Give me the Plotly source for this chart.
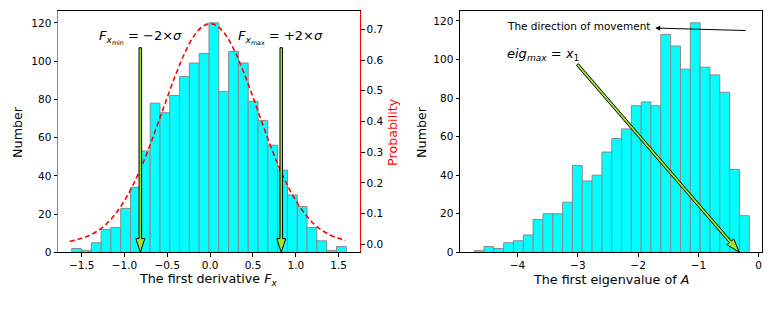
import math
import numpy as np
import plotly.graph_objects as go

# ---------------- data ----------------
fx_counts = [2, 1, 5, 12, 13, 23, 34, 53, 78, 73, 82, 92, 99, 104,
             120, 84, 105, 99, 79, 69, 56, 43, 30, 24, 13, 6, 1, 3]
fx_bin_start = -1.616
fx_bin_end = 1.589

eig_counts = [1, 3, 2, 5, 6, 9, 17, 20, 20, 26, 45, 37, 40, 52,
              59, 64, 76, 78, 76, 113, 107, 95, 119, 96, 92, 83, 43, 19]
eig_bin_start = -4.72
eig_bin_end = -0.155

pdf_x = [-1.64, -1.5, -1.4, -1.3, -1.2, -1.1, -1.0, -0.9, -0.8, -0.7, -0.6,
         -0.5, -0.4, -0.3, -0.2, -0.1, 0.0, 0.1, 0.2, 0.3, 0.4, 0.5, 0.6,
         0.7, 0.8, 0.9, 1.0, 1.1, 1.2, 1.3, 1.4, 1.5, 1.58]
pdf_y = [0.009, 0.019, 0.030, 0.046, 0.069, 0.101, 0.142, 0.193, 0.254,
         0.324, 0.401, 0.479, 0.554, 0.621, 0.674, 0.707, 0.719, 0.707,
         0.674, 0.621, 0.554, 0.479, 0.401, 0.324, 0.254, 0.193, 0.142,
         0.101, 0.069, 0.046, 0.030, 0.019, 0.012]

fx_ticks = [-1.5, -1.0, -0.5, 0.0, 0.5, 1.0, 1.5]
fx_ticktext = ["−1.5", "−1.0", "−0.5", "0.0", "0.5", "1.0", "1.5"]
eig_ticks = [-4, -3, -2, -1, 0]
eig_ticktext = ["−4", "−3", "−2", "−1", "0"]
count_ticks = [0, 20, 40, 60, 80, 100, 120]
prob_ticks = [0.0, 0.1, 0.2, 0.3, 0.4, 0.5, 0.6, 0.7]
prob_ticktext = ["0.0", "0.1", "0.2", "0.3", "0.4", "0.5", "0.6", "0.7"]

# annotation anchor points (data coordinates)
fx_arrow_x = [-0.815, 0.83]
fx_arrow_top = 107.0
eig_arrow_tail = (-3.007, 97.4)
eig_arrow_tip = (-0.32, 0.0)
move_arrow_tail = (-0.19, 115.0)
move_arrow_tip = (-1.716, 116.3)

# ---------------- geometry ----------------
W, H = 775, 310
L1 = (58, 360)
L2 = (460, 762)
YPX = (11.6, 257.3)
x1_range = [-1.776, 1.749]
y1_range = [0, 126]
y2_range = [-0.0265, 0.7587]
x2_range = [-4.955, 0.056]
y3_range = [0, 124.95]

def px(x):
    return x / W

def py(y):
    return 1 - y / H

FONT = "DejaVu Sans"
TICKFONT = dict(family=FONT, size=10.5, color="black")
LABFONT = 12.7

fx_edges = np.linspace(fx_bin_start, fx_bin_end, len(fx_counts) + 1)
fx_centers = (fx_edges[:-1] + fx_edges[1:]) / 2
fx_w = fx_edges[1] - fx_edges[0]
eig_edges = np.linspace(eig_bin_start, eig_bin_end, len(eig_counts) + 1)
eig_centers = (eig_edges[:-1] + eig_edges[1:]) / 2
eig_w = eig_edges[1] - eig_edges[0]

fig = go.Figure()
fig.add_trace(go.Bar(x=fx_centers, y=fx_counts, width=fx_w,
                     marker=dict(color="#00ffff", line=dict(color="#8a8a8a", width=1)),
                     xaxis="x", yaxis="y", showlegend=False, hoverinfo="skip"))
fig.add_trace(go.Scatter(x=pdf_x, y=pdf_y, mode="lines", line_shape="spline",
                         line=dict(color="red", width=1.6, dash="5px,3px"),
                         xaxis="x", yaxis="y2", showlegend=False, hoverinfo="skip"))
fig.add_trace(go.Bar(x=eig_centers, y=eig_counts, width=eig_w,
                     marker=dict(color="#00ffff", line=dict(color="#8a8a8a", width=1)),
                     xaxis="x2", yaxis="y3", showlegend=False, hoverinfo="skip"))


def arrow_path(tail, tip, xr, yr, wpx, hpx, shaft_w=2.6, head_w=9.0, head_l=14.0):
    sx = wpx / (xr[1] - xr[0])
    sy = hpx / (yr[1] - yr[0])
    X0, Y0 = tail[0] * sx, tail[1] * sy
    X1, Y1 = tip[0] * sx, tip[1] * sy
    dx, dy = X1 - X0, Y1 - Y0
    L = math.hypot(dx, dy)
    ux, uy = dx / L, dy / L
    nx, ny = -uy, ux
    bx, by = X1 - ux * head_l, Y1 - uy * head_l
    pts = [(X0 + nx * shaft_w / 2, Y0 + ny * shaft_w / 2),
           (bx + nx * shaft_w / 2, by + ny * shaft_w / 2),
           (bx + nx * head_w / 2, by + ny * head_w / 2),
           (X1, Y1),
           (bx - nx * head_w / 2, by - ny * head_w / 2),
           (bx - nx * shaft_w / 2, by - ny * shaft_w / 2),
           (X0 - nx * shaft_w / 2, Y0 - ny * shaft_w / 2)]
    s = "M " + " L ".join(f"{p[0] / sx:.5f},{p[1] / sy:.5f}" for p in pts) + " Z"
    return s

shapes = []
wpx1 = L1[1] - L1[0]
wpx2 = L2[1] - L2[0]
hpx = YPX[1] - YPX[0]
for ax_ in fx_arrow_x:
    shapes.append(dict(type="path", xref="x", yref="y",
                       path=arrow_path((ax_, fx_arrow_top), (ax_, 0.0), x1_range, y1_range, wpx1, hpx),
                       fillcolor="#9be62a", line=dict(color="black", width=1), layer="above"))
shapes.append(dict(type="path", xref="x2", yref="y3",
                   path=arrow_path(eig_arrow_tail, eig_arrow_tip, x2_range, y3_range, wpx2, hpx),
                   fillcolor="#9be62a", line=dict(color="black", width=1), layer="above"))

def txt(x, y, text, size, color="black", angle=0, xanchor="center"):
    return dict(x=px(x), y=py(y), xref="paper", yref="paper", xanchor=xanchor, yanchor="middle",
                text=text, textangle=angle, showarrow=False,
                font=dict(family=FONT, size=size, color=color))

annotations = [
    dict(x=move_arrow_tip[0], y=move_arrow_tip[1], ax=move_arrow_tail[0], ay=move_arrow_tail[1],
         xref="x2", yref="y3", axref="x2", ayref="y3", text="", showarrow=True,
         arrowhead=2, arrowsize=1, arrowwidth=1, arrowcolor="black", standoff=0),
    txt(505, 27, "The direction of movement", 10.5, xanchor="left"),
    txt(505, 56, "<i>eig</i><sub><i>max</i></sub> = <i>x</i><sub>1</sub>", 13, xanchor="left"),
    txt(97, 38, "<i>F</i><sub><i>x</i><sub>min</sub></sub> = −2×<i>σ</i>", 13, xanchor="left"),
    txt(236, 38, "<i>F</i><sub><i>x</i><sub>max</sub></sub> = +2×<i>σ</i>", 13, xanchor="left"),
    # axis titles
    txt(18, 134.5, "Number", LABFONT, angle=-90),
    txt(393, 134.5, "Probability", LABFONT, color="red", angle=-90),
    txt(422, 134.5, "Number", LABFONT, angle=-90),
    txt(209, 285, "The first derivative <i>F</i><sub><i>x</i></sub>", LABFONT),
    txt(611, 285, "The first eigenvalue of <i>A</i>", LABFONT),
]

common = dict(showgrid=False, zeroline=False, ticks="outside", ticklen=3.5, tickwidth=1,
              tickcolor="black", tickfont=TICKFONT, showline=True, linewidth=1)

fig.update_layout(
    width=W, height=H, margin=dict(l=0, r=0, t=0, b=0),
    paper_bgcolor="white", plot_bgcolor="white", showlegend=False,
    font=dict(family=FONT, color="black"),
    xaxis=dict(domain=[px(L1[0]), px(L1[1])], range=x1_range, anchor="y",
               tickvals=fx_ticks, ticktext=fx_ticktext, linecolor="black", mirror=True, **common),
    yaxis=dict(domain=[py(YPX[1]), py(YPX[0])], range=y1_range, anchor="x",
               tickvals=count_ticks, linecolor="#4caf50", **common),
    yaxis2=dict(domain=[py(YPX[1]), py(YPX[0])], range=y2_range, anchor="x", overlaying="y",
                side="right", tickvals=prob_ticks, ticktext=prob_ticktext, linecolor="red", **common),
    xaxis2=dict(domain=[px(L2[0]), px(L2[1])], range=x2_range, anchor="y3",
                tickvals=eig_ticks, ticktext=eig_ticktext, linecolor="black", mirror=True, **common),
    yaxis3=dict(domain=[py(YPX[1]), py(YPX[0])], range=y3_range, anchor="x2",
                tickvals=count_ticks, linecolor="black", mirror=True, **common),
    shapes=shapes, annotations=annotations,
)

# remove the browser's default page margin so the figure sits at the window origin
fig.write_html("out.html", config={"displayModeBar": False},
               post_script="document.body.style.margin='0px';")
